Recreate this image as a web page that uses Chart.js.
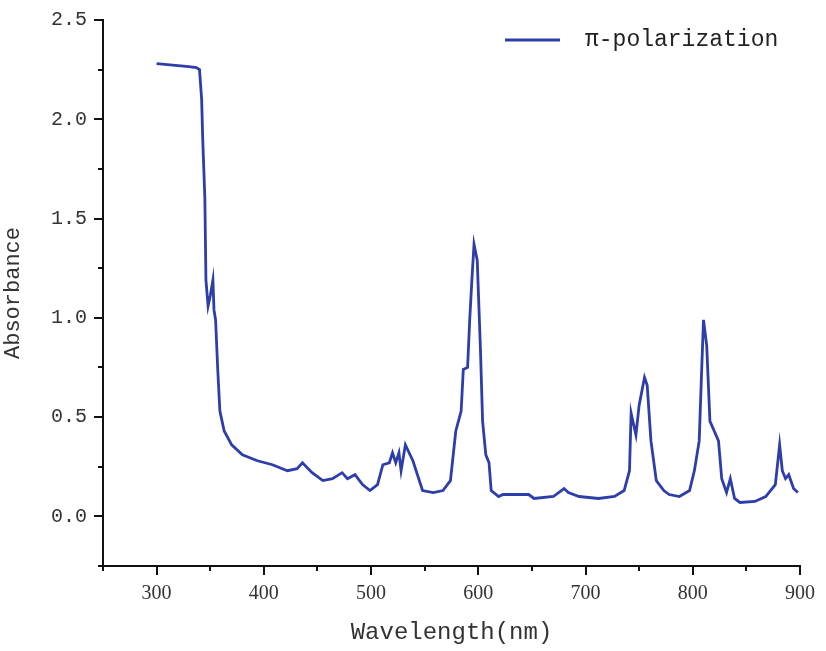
<!DOCTYPE html>
<html>
<head>
<meta charset="utf-8">
<script src="https://cdn.jsdelivr.net/npm/chart.js@4/dist/chart.umd.min.js"></script>
<style>
  html, body { margin: 0; padding: 0; background: #ffffff; }
  #wrap { width: 826px; height: 651px; position: relative; }
</style>
</head>
<body>
<div id="wrap"><canvas id="c" width="826" height="651"></canvas></div>
<script>
const seriesLabel = "π-polarization";
const wavelengths = [300,310,320,330,337,340,342,343,345,346,348,350,352.5,353.5,355,357,359,363,370,380,394,408,422,431,436,445,455,464,473,478,485,492,499,506,511,517,520,523,526,528,532,539,548,558,567,574,579,584,586,590,592,594,596,599,600,602,604,607,610,612,619,623,647,652,670,680,684,694,712,727,736,741,742.5,747,750,755,757.5,761,766,773,778,787.5,797,801.5,806,808,810,813,816,820,824,827,831.5,835,839,844,858,868,877,881,883.5,886.5,889.5,894,898];
const absorbance = [2.28,2.275,2.27,2.265,2.26,2.25,2.1,1.9,1.6,1.19,1.06,1.11,1.19,1.04,0.99,0.74,0.53,0.43,0.36,0.31,0.28,0.26,0.23,0.24,0.27,0.22,0.18,0.19,0.22,0.19,0.21,0.16,0.13,0.16,0.26,0.27,0.32,0.27,0.32,0.23,0.36,0.28,0.13,0.12,0.13,0.18,0.43,0.53,0.74,0.75,0.99,1.19,1.37,1.29,1.14,0.84,0.48,0.31,0.27,0.13,0.10,0.11,0.11,0.09,0.10,0.14,0.12,0.10,0.09,0.10,0.13,0.23,0.52,0.41,0.56,0.70,0.66,0.38,0.18,0.13,0.11,0.10,0.13,0.23,0.38,0.69,0.99,0.86,0.48,0.43,0.38,0.19,0.12,0.19,0.09,0.07,0.075,0.10,0.16,0.36,0.23,0.19,0.21,0.14,0.12];
const xMajorTicks = [300,400,500,600,700,800,900];
const xMinorTicks = [250,350,450,550,650,750,850];
const yMajorTicks = [0.0,0.5,1.0,1.5,2.0,2.5];
const yMinorTicks = [-0.25,0.25,0.75,1.25,1.75,2.25];
const xTitle = "Wavelength(nm)";
const yTitle = "Absorbance";

const points = wavelengths.map((w, i) => ({x: w, y: absorbance[i]}));

const tickPlugin = {
  id: 'customTicks',
  afterDraw(chart) {
    const ctx = chart.ctx;
    const xs = chart.scales.x, ys = chart.scales.y;
    const area = chart.chartArea;
    ctx.save();
    ctx.strokeStyle = '#111';
    ctx.lineWidth = 2;
    ctx.beginPath();
    xMajorTicks.forEach(v => { const p = Math.round(xs.getPixelForValue(v)); ctx.moveTo(p, area.bottom); ctx.lineTo(p, area.bottom + 9); });
    xMinorTicks.forEach(v => { const p = Math.round(xs.getPixelForValue(v)); ctx.moveTo(p, area.bottom); ctx.lineTo(p, area.bottom + 5); });
    yMajorTicks.forEach(v => { const p = Math.round(ys.getPixelForValue(v)); ctx.moveTo(area.left, p); ctx.lineTo(area.left - 9, p); });
    yMinorTicks.forEach(v => { const p = Math.round(ys.getPixelForValue(v)); ctx.moveTo(area.left, p); ctx.lineTo(area.left - 5, p); });
    ctx.stroke();
    // legend inside plot, top right
    const ds = chart.data.datasets[0];
    const ly = area.top + 20;
    ctx.strokeStyle = ds.borderColor;
    ctx.lineWidth = ds.borderWidth;
    ctx.beginPath();
    ctx.moveTo(505, ly); ctx.lineTo(560, ly);
    ctx.stroke();
    ctx.fillStyle = '#222';
    ctx.font = '23px "Liberation Mono", monospace';
    ctx.textBaseline = 'middle';
    ctx.textAlign = 'left';
    ctx.fillText(ds.label, 585, ly);
    ctx.restore();
  }
};

new Chart(document.getElementById('c'), {
  type: 'line',
  data: {
    datasets: [{
      label: seriesLabel,
      data: points,
      borderColor: '#2d3eab',
      backgroundColor: '#2d3eab',
      borderWidth: 2.8,
      pointRadius: 0,
      tension: 0,
      fill: false
    }]
  },
  options: {
    responsive: false,
    animation: false,
    layout: { padding: { left: 0, top: 20, right: 26, bottom: 0 } },
    plugins: {
      legend: { display: false },
      tooltip: { enabled: false }
    },
    scales: {
      x: {
        type: 'linear',
        min: 250, max: 900,
        afterBuildTicks: (s) => { s.ticks = xMajorTicks.map(v => ({value: v})); },
        afterFit: (s) => { s.height = 85; s.paddingLeft = 0; s.paddingRight = 0; },
        grid: { display: true, drawOnChartArea: false, drawTicks: false },
        border: { display: true, color: '#111', width: 2 },
        ticks: {
          color: '#333',
          padding: 16,
          maxRotation: 0,
          font: { family: '"Liberation Serif", serif', size: 20 },
          callback: (v) => String(v)
        },
        title: {
          display: true,
          text: xTitle,
          color: '#333',
          padding: { top: 0, bottom: 4 },
          font: { family: '"Liberation Mono", monospace', size: 24 }
        }
      },
      y: {
        type: 'linear',
        min: -0.25, max: 2.5,
        afterBuildTicks: (s) => { s.ticks = yMajorTicks.map(v => ({value: v})); },
        afterFit: (s) => { s.width = 103; s.paddingTop = 0; s.paddingBottom = 0; },
        grid: { display: true, drawOnChartArea: false, drawTicks: false },
        border: { display: true, color: '#111', width: 2 },
        ticks: {
          color: '#333',
          padding: 16,
          font: { family: '"Liberation Mono", monospace', size: 20 },
          callback: (v) => v.toFixed(1)
        },
        title: {
          display: true,
          text: yTitle,
          color: '#333',
          padding: { top: 0, bottom: 8 },
          font: { family: '"Liberation Mono", monospace', size: 22 }
        }
      }
    }
  },
  plugins: [tickPlugin]
});
</script>
</body>
</html>
